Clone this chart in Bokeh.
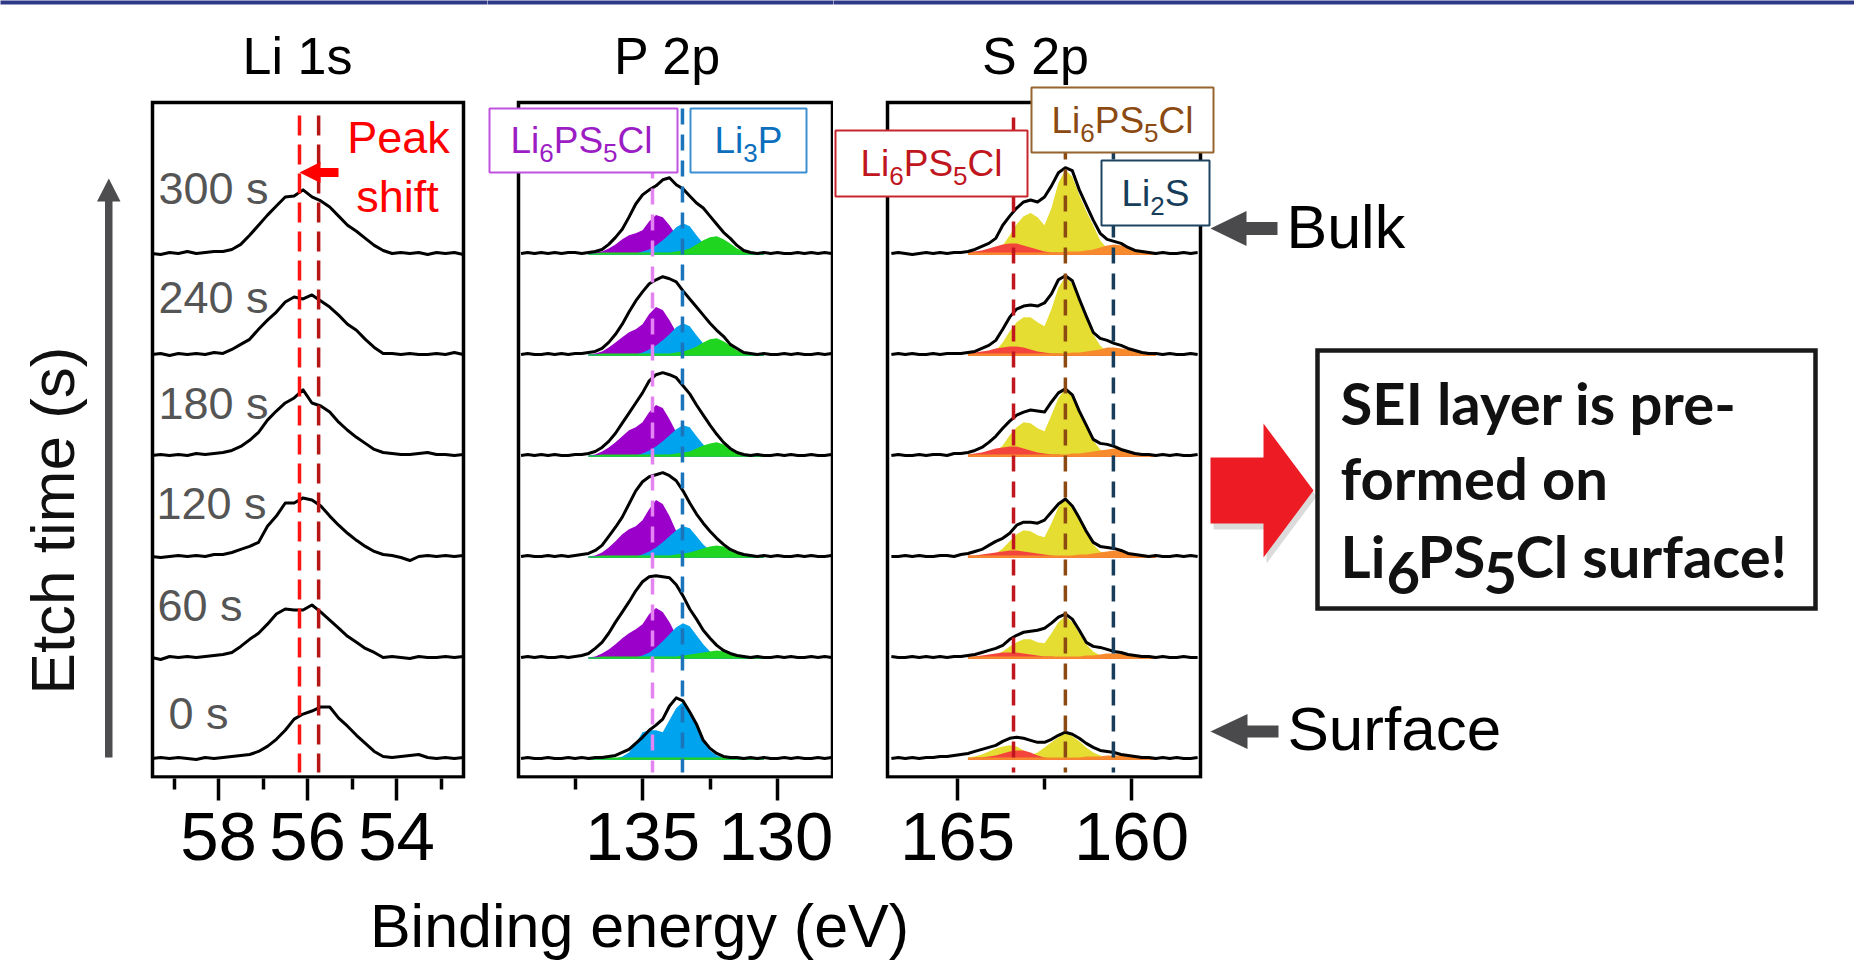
import numpy as np
from bokeh.plotting import figure
from bokeh.layouts import column, row
from bokeh.models import Range1d, FixedTicker
from bokeh.core.properties import value
from bokeh.embed import file_html
from bokeh.resources import INLINE

# ---------------- data ----------------
etch_times = ["0 s", "60 s", "120 s", "180 s", "240 s", "300 s"]
stack_offset = [0, 1, 2, 3, 4, 5]

# Li 1s
li_energy = [59.5, 59.3, 59.1, 58.9, 58.7, 58.5, 58.3, 58.1, 57.9, 57.7,
             57.5, 57.3, 57.1, 56.9, 56.7, 56.5, 56.3, 56.1, 55.9, 55.7,
             55.5, 55.3, 55.1, 54.9, 54.7, 54.5, 54.3, 54.1, 53.9, 53.7,
             53.5, 53.3, 53.1, 52.9, 52.7, 52.5]
li_0s = [0.00, 0.01, 0.00, 0.01, 0.00, -0.01, 0.01, 0.00, 0.01, 0.02,
         0.03, 0.04, 0.07, 0.12, 0.19, 0.28, 0.39, 0.44, 0.47, 0.51,
         0.51, 0.40, 0.32, 0.23, 0.15, 0.07, 0.02, 0.01, 0.02, 0.03,
         0.04, 0.01, 0.00, 0.01, 0.00, 0.01]
li_60s = [0.00, -0.02, 0.01, 0.00, 0.01, 0.00, 0.01, 0.02, 0.03, 0.05,
          0.11, 0.18, 0.24, 0.33, 0.43, 0.48, 0.47, 0.47, 0.52, 0.45,
          0.37, 0.29, 0.21, 0.15, 0.09, 0.05, 0.00, 0.01, 0.00, -0.01,
          0.01, 0.00, 0.00, 0.01, 0.00, 0.01]
li_120s = [0.00, -0.01, 0.00, 0.01, 0.00, 0.01, 0.00, 0.02, 0.02, 0.04,
           0.07, 0.10, 0.14, 0.30, 0.40, 0.53, 0.53, 0.58, 0.56, 0.50,
           0.40, 0.31, 0.23, 0.16, 0.10, 0.05, 0.02, 0.01, -0.01, -0.04,
           0.00, 0.01, 0.00, 0.01, 0.00, 0.01]
li_180s = [0.00, 0.01, 0.00, 0.01, 0.00, 0.02, 0.01, 0.02, 0.03, 0.05,
           0.09, 0.15, 0.23, 0.35, 0.44, 0.52, 0.57, 0.65, 0.52, 0.49,
           0.43, 0.33, 0.25, 0.18, 0.12, 0.06, 0.03, 0.02, 0.01, 0.01,
           0.02, 0.03, 0.01, 0.01, 0.00, 0.01]
li_240s = [0.00, 0.01, -0.01, 0.01, 0.00, 0.01, 0.00, 0.02, 0.01, 0.05,
           0.10, 0.15, 0.25, 0.34, 0.42, 0.52, 0.57, 0.55, 0.59, 0.53,
           0.47, 0.39, 0.30, 0.24, 0.15, 0.07, 0.01, 0.01, 0.00, 0.01,
           0.00, 0.00, 0.01, 0.00, 0.02, 0.00]
li_300s = [0.00, -0.01, 0.01, 0.00, 0.02, 0.00, 0.01, 0.02, 0.02, 0.04,
           0.09, 0.18, 0.28, 0.38, 0.47, 0.56, 0.57, 0.63, 0.56, 0.52,
           0.46, 0.37, 0.28, 0.22, 0.15, 0.08, 0.03, 0.00, 0.01, 0.00,
           0.01, -0.01, 0.01, 0.00, 0.01, -0.01]
li_spectra = [li_0s, li_60s, li_120s, li_180s, li_240s, li_300s]
li_peak_lines = [56.18, 55.75]

# P 2p
p_energy = [139.5, 139.25, 139.0, 138.75, 138.5, 138.25, 138.0, 137.75, 137.5, 137.25,
            137.0, 136.75, 136.5, 136.25, 136.0, 135.75, 135.5, 135.25, 135.0, 134.75,
            134.5, 134.25, 134.0, 133.75, 133.5, 133.25, 133.0, 132.75, 132.5, 132.25,
            132.0, 131.75, 131.5, 131.25, 131.0, 130.75, 130.5, 130.25, 130.0, 129.75,
            129.5, 129.25, 129.0, 128.75, 128.5, 128.25, 128.0]
p_0s = [0.00, 0.01, 0.00, 0.00, 0.01, 0.00, 0.00, 0.01, 0.00, 0.01,
        0.00, 0.01, 0.01, 0.02, 0.03, 0.06, 0.09, 0.15, 0.21, 0.28,
        0.33, 0.39, 0.52, 0.60, 0.57, 0.46, 0.34, 0.18, 0.10, 0.05,
        0.02, 0.01, 0.01, 0.00, 0.01, 0.00, 0.01, 0.00, 0.00, 0.01,
        0.00, 0.01, 0.00, 0.00, 0.01, 0.00, 0.01]
p_60s = [0.00, 0.01, 0.00, 0.01, 0.00, 0.00, 0.01, 0.00, 0.01, 0.02,
         0.04, 0.09, 0.15, 0.24, 0.35, 0.45, 0.55, 0.66, 0.75, 0.80,
         0.81, 0.80, 0.79, 0.72, 0.61, 0.48, 0.38, 0.27, 0.19, 0.12,
         0.07, 0.04, 0.02, 0.01, 0.00, 0.01, 0.00, 0.00, 0.01, 0.00,
         0.01, 0.00, 0.00, 0.01, 0.00, 0.01, 0.00]
p_120s = [0.00, 0.01, 0.00, 0.00, 0.01, 0.00, 0.01, 0.00, 0.01, 0.02,
          0.03, 0.06, 0.11, 0.20, 0.29, 0.39, 0.52, 0.65, 0.74, 0.79,
          0.81, 0.83, 0.80, 0.75, 0.65, 0.53, 0.42, 0.33, 0.25, 0.18,
          0.12, 0.07, 0.04, 0.02, 0.01, 0.00, 0.01, 0.00, 0.01, 0.00,
          0.00, 0.01, 0.00, 0.01, 0.00, 0.00, 0.01]
p_180s = [0.00, 0.01, 0.00, 0.01, 0.00, 0.01, 0.00, 0.00, 0.01, 0.01,
          0.02, 0.04, 0.08, 0.14, 0.22, 0.32, 0.42, 0.52, 0.62, 0.74,
          0.80, 0.82, 0.80, 0.77, 0.69, 0.61, 0.50, 0.40, 0.30, 0.21,
          0.13, 0.07, 0.03, 0.01, 0.00, 0.01, 0.00, 0.00, 0.01, 0.00,
          0.01, 0.00, 0.00, 0.01, 0.00, 0.00, 0.01]
p_240s = [0.00, 0.01, 0.00, 0.00, 0.01, 0.00, 0.01, 0.00, 0.01, 0.01,
          0.02, 0.03, 0.06, 0.12, 0.20, 0.30, 0.42, 0.53, 0.62, 0.70,
          0.74, 0.77, 0.75, 0.72, 0.63, 0.55, 0.47, 0.39, 0.31, 0.24,
          0.18, 0.10, 0.06, 0.02, 0.01, 0.00, 0.01, 0.00, 0.00, 0.01,
          0.00, 0.01, 0.00, 0.00, 0.01, 0.00, 0.01]
p_300s = [0.00, 0.01, 0.00, 0.01, 0.00, 0.01, 0.00, 0.01, 0.01, 0.00,
          0.01, 0.02, 0.04, 0.09, 0.16, 0.24, 0.36, 0.49, 0.58, 0.63,
          0.67, 0.73, 0.75, 0.68, 0.64, 0.57, 0.50, 0.45, 0.37, 0.29,
          0.21, 0.15, 0.08, 0.03, 0.01, 0.00, 0.01, 0.00, 0.01, 0.00,
          0.00, 0.01, 0.00, 0.01, 0.00, 0.01, 0.00]
p_spectra = [p_0s, p_60s, p_120s, p_180s, p_240s, p_300s]

p_comp_energy = [137.0, 136.75, 136.5, 136.25, 136.0, 135.75, 135.5, 135.25, 135.0, 134.75,
                 134.5, 134.25, 134.0, 133.75, 133.5, 133.25, 133.0, 132.75, 132.5, 132.25,
                 132.0, 131.75, 131.5, 131.25, 131.0, 130.75, 130.5]
p_li6ps5cl = [  # purple component
    [0] * 27,
    [0.00, 0.01, 0.04, 0.08, 0.13, 0.19, 0.24, 0.28, 0.33, 0.43, 0.49, 0.45, 0.35, 0.22, 0.11, 0.05, 0.02, 0.00, 0, 0, 0, 0, 0, 0, 0, 0, 0],
    [0.00, 0.01, 0.04, 0.09, 0.15, 0.22, 0.27, 0.30, 0.36, 0.47, 0.56, 0.52, 0.40, 0.25, 0.13, 0.06, 0.02, 0.00, 0, 0, 0, 0, 0, 0, 0, 0, 0],
    [0.00, 0.01, 0.04, 0.08, 0.13, 0.19, 0.25, 0.28, 0.33, 0.43, 0.50, 0.47, 0.36, 0.23, 0.12, 0.05, 0.02, 0.00, 0, 0, 0, 0, 0, 0, 0, 0, 0],
    [0.00, 0.01, 0.03, 0.07, 0.12, 0.17, 0.22, 0.25, 0.30, 0.40, 0.47, 0.44, 0.34, 0.22, 0.11, 0.05, 0.02, 0.00, 0, 0, 0, 0, 0, 0, 0, 0, 0],
    [0.00, 0.01, 0.02, 0.05, 0.09, 0.14, 0.18, 0.20, 0.23, 0.32, 0.38, 0.36, 0.28, 0.18, 0.09, 0.04, 0.01, 0.00, 0, 0, 0, 0, 0, 0, 0, 0, 0],
]
p_li3p = [  # blue component
    [0, 0, 0, 0, 0, 0.02, 0.06, 0.15, 0.26, 0.28, 0.28, 0.26, 0.38, 0.50, 0.56, 0.46, 0.32, 0.17, 0.08, 0.03, 0.01, 0, 0, 0, 0, 0, 0],
    [0, 0, 0, 0, 0, 0, 0, 0.00, 0.02, 0.05, 0.10, 0.16, 0.23, 0.30, 0.34, 0.31, 0.22, 0.13, 0.06, 0.02, 0.00, 0, 0, 0, 0, 0, 0],
    [0, 0, 0, 0, 0, 0, 0, 0.00, 0.02, 0.05, 0.09, 0.14, 0.20, 0.26, 0.30, 0.28, 0.20, 0.12, 0.06, 0.02, 0.00, 0, 0, 0, 0, 0, 0],
    [0, 0, 0, 0, 0, 0, 0, 0.00, 0.02, 0.05, 0.09, 0.14, 0.20, 0.26, 0.30, 0.28, 0.19, 0.11, 0.05, 0.02, 0.00, 0, 0, 0, 0, 0, 0],
    [0, 0, 0, 0, 0, 0, 0, 0.00, 0.02, 0.05, 0.09, 0.14, 0.20, 0.27, 0.31, 0.28, 0.19, 0.11, 0.05, 0.02, 0.00, 0, 0, 0, 0, 0, 0],
    [0, 0, 0, 0, 0, 0, 0, 0.00, 0.02, 0.04, 0.08, 0.13, 0.19, 0.26, 0.30, 0.27, 0.18, 0.10, 0.05, 0.02, 0.00, 0, 0, 0, 0, 0, 0],
]
p_third = [  # green component
    [0, 0.00, 0.01, 0.01, 0.01, 0.01, 0.01, 0.01, 0.01, 0.01, 0.01, 0.01, 0.01, 0.01, 0.01, 0.01, 0.01, 0.01, 0.01, 0.01, 0.01, 0.01, 0.01, 0.01, 0.01, 0.00, 0],
    [0, 0.00, 0.01, 0.01, 0.01, 0.01, 0.01, 0.01, 0.01, 0.01, 0.01, 0.01, 0.01, 0.01, 0.02, 0.03, 0.04, 0.05, 0.06, 0.07, 0.06, 0.04, 0.02, 0.01, 0.01, 0.00, 0],
    [0, 0.00, 0.01, 0.01, 0.01, 0.01, 0.01, 0.01, 0.01, 0.01, 0.01, 0.01, 0.01, 0.02, 0.03, 0.04, 0.06, 0.08, 0.10, 0.11, 0.10, 0.07, 0.03, 0.01, 0.01, 0.00, 0],
    [0, 0.00, 0.01, 0.01, 0.01, 0.01, 0.01, 0.01, 0.01, 0.01, 0.01, 0.01, 0.01, 0.02, 0.03, 0.04, 0.07, 0.10, 0.12, 0.13, 0.11, 0.07, 0.03, 0.01, 0.01, 0.00, 0],
    [0, 0.00, 0.01, 0.01, 0.01, 0.01, 0.01, 0.01, 0.01, 0.01, 0.01, 0.01, 0.01, 0.02, 0.03, 0.05, 0.08, 0.12, 0.15, 0.16, 0.13, 0.09, 0.04, 0.02, 0.01, 0.00, 0],
    [0, 0.00, 0.01, 0.01, 0.01, 0.01, 0.01, 0.01, 0.01, 0.01, 0.01, 0.01, 0.01, 0.02, 0.03, 0.05, 0.09, 0.13, 0.16, 0.17, 0.14, 0.10, 0.05, 0.02, 0.01, 0.00, 0],
]
p_ref_lines = [134.63, 133.52]

# S 2p
s_energy = [166.9, 166.7, 166.5, 166.3, 166.1, 165.9, 165.7, 165.5, 165.3, 165.1,
            164.9, 164.7, 164.5, 164.3, 164.1, 163.9, 163.7, 163.5, 163.3, 163.1,
            162.9, 162.7, 162.5, 162.3, 162.1, 161.9, 161.7, 161.5, 161.3, 161.1,
            160.9, 160.7, 160.5, 160.3, 160.1, 159.9, 159.7, 159.5, 159.3, 159.1,
            158.9, 158.7, 158.5, 158.3, 158.1]
s_0s = [0.00, 0.01, 0.00, 0.01, 0.00, 0.01, 0.01, 0.02, 0.02, 0.03,
        0.04, 0.05, 0.07, 0.09, 0.11, 0.13, 0.17, 0.20, 0.21, 0.20,
        0.18, 0.16, 0.16, 0.19, 0.23, 0.26, 0.24, 0.20, 0.15, 0.11,
        0.08, 0.07, 0.06, 0.04, 0.03, 0.02, 0.01, 0.01, 0.00, 0.01,
        0.00, 0.01, 0.00, 0.00, 0.01]
s_60s = [0.01, 0.00, 0.00, 0.01, 0.00, 0.01, 0.00, 0.01, 0.00, 0.01,
         0.01, 0.02, 0.03, 0.05, 0.07, 0.09, 0.12, 0.18, 0.22, 0.25,
         0.26, 0.27, 0.29, 0.34, 0.40, 0.43, 0.38, 0.27, 0.15, 0.11,
         0.10, 0.08, 0.06, 0.05, 0.03, 0.02, 0.01, 0.01, 0.00, 0.01,
         0.00, 0.00, 0.01, 0.00, 0.00]
s_120s = [0.00, 0.00, 0.01, 0.00, 0.01, 0.00, 0.00, 0.01, 0.01, 0.00,
          0.02, 0.03, 0.05, 0.07, 0.11, 0.15, 0.18, 0.23, 0.31, 0.34,
          0.34, 0.33, 0.36, 0.44, 0.52, 0.57, 0.50, 0.38, 0.25, 0.14,
          0.10, 0.09, 0.08, 0.06, 0.03, 0.02, 0.01, 0.00, 0.01, 0.00,
          0.00, 0.01, 0.00, 0.01, 0.00]
s_180s = [0.00, 0.01, 0.00, 0.00, 0.01, 0.00, 0.01, 0.01, 0.00, 0.02,
          0.02, 0.03, 0.05, 0.08, 0.13, 0.19, 0.27, 0.34, 0.40, 0.43,
          0.45, 0.44, 0.43, 0.53, 0.62, 0.66, 0.60, 0.44, 0.30, 0.16,
          0.12, 0.11, 0.09, 0.06, 0.04, 0.02, 0.01, 0.01, 0.00, 0.01,
          0.00, 0.01, 0.00, 0.00, 0.01]
s_240s = [0.00, 0.01, 0.00, 0.01, 0.00, 0.00, 0.01, 0.00, 0.01, 0.01,
          0.01, 0.02, 0.03, 0.06, 0.09, 0.14, 0.25, 0.37, 0.45, 0.48,
          0.49, 0.48, 0.51, 0.60, 0.74, 0.78, 0.73, 0.55, 0.38, 0.22,
          0.16, 0.14, 0.11, 0.09, 0.06, 0.04, 0.02, 0.01, 0.01, 0.00,
          0.01, 0.00, 0.00, 0.01, 0.00]
s_300s = [0.00, 0.01, 0.00, -0.01, 0.00, 0.01, 0.00, 0.01, 0.00, 0.01,
          0.01, 0.02, 0.04, 0.07, 0.10, 0.15, 0.28, 0.37, 0.45, 0.51,
          0.53, 0.51, 0.56, 0.67, 0.80, 0.85, 0.82, 0.63, 0.48, 0.33,
          0.20, 0.14, 0.12, 0.10, 0.06, 0.03, 0.02, 0.01, 0.00, 0.01,
          0.00, 0.00, 0.01, 0.00, 0.01]
s_spectra = [s_0s, s_60s, s_120s, s_180s, s_240s, s_300s]

s_comp_energy = [164.7, 164.5, 164.3, 164.1, 163.9, 163.7, 163.5, 163.3, 163.1, 162.9,
                 162.7, 162.5, 162.3, 162.1, 161.9, 161.7, 161.5, 161.3, 161.1, 160.9,
                 160.7, 160.5, 160.3, 160.1, 159.9, 159.7, 159.5, 159.3]
s_li6ps5cl_main = [  # yellow
    [0.01, 0.02, 0.04, 0.07, 0.10, 0.12, 0.13, 0.12, 0.08, 0.03, 0.06, 0.11, 0.16, 0.21, 0.25, 0.22, 0.17, 0.11, 0.06, 0.03, 0.01, 0.00, 0, 0, 0, 0, 0, 0],
    [0.00, 0.00, 0.00, 0.01, 0.03, 0.06, 0.11, 0.15, 0.18, 0.18, 0.15, 0.14, 0.24, 0.35, 0.41, 0.35, 0.24, 0.13, 0.06, 0.02, 0.00, 0, 0, 0, 0, 0, 0, 0],
    [0.00, 0.00, 0.00, 0.01, 0.03, 0.08, 0.15, 0.22, 0.26, 0.25, 0.21, 0.19, 0.33, 0.49, 0.57, 0.49, 0.36, 0.23, 0.12, 0.05, 0.02, 0.00, 0, 0, 0, 0, 0, 0],
    [0.00, 0.00, 0.00, 0.01, 0.04, 0.10, 0.20, 0.28, 0.33, 0.32, 0.27, 0.24, 0.40, 0.57, 0.66, 0.58, 0.42, 0.28, 0.15, 0.06, 0.02, 0.00, 0, 0, 0, 0, 0, 0],
    [0.00, 0.00, 0.00, 0.01, 0.04, 0.12, 0.23, 0.32, 0.37, 0.37, 0.32, 0.28, 0.45, 0.66, 0.77, 0.70, 0.52, 0.35, 0.20, 0.09, 0.03, 0.01, 0, 0, 0, 0, 0, 0],
    [0.00, 0.00, 0.00, 0.00, 0.02, 0.08, 0.18, 0.29, 0.37, 0.40, 0.36, 0.28, 0.45, 0.70, 0.83, 0.76, 0.58, 0.42, 0.28, 0.13, 0.05, 0.01, 0.00, 0, 0, 0, 0, 0],
]
s_li6ps5cl_red = [  # red
    [0.00, 0.01, 0.01, 0.02, 0.03, 0.05, 0.07, 0.08, 0.08, 0.06, 0.03, 0.01, 0.00, 0, 0, 0, 0, 0, 0, 0, 0, 0, 0, 0, 0, 0, 0, 0],
    [0.01, 0.01, 0.02, 0.03, 0.04, 0.05, 0.05, 0.05, 0.04, 0.03, 0.02, 0.01, 0.01, 0.00, 0, 0, 0, 0, 0, 0, 0, 0, 0, 0, 0, 0, 0, 0],
    [0.01, 0.01, 0.02, 0.03, 0.04, 0.05, 0.06, 0.06, 0.05, 0.04, 0.03, 0.02, 0.01, 0.00, 0, 0, 0, 0, 0, 0, 0, 0, 0, 0, 0, 0, 0, 0],
    [0.01, 0.02, 0.03, 0.05, 0.07, 0.08, 0.09, 0.09, 0.07, 0.05, 0.03, 0.02, 0.01, 0.01, 0.00, 0, 0, 0, 0, 0, 0, 0, 0, 0, 0, 0, 0, 0],
    [0.01, 0.02, 0.03, 0.04, 0.06, 0.07, 0.08, 0.08, 0.07, 0.05, 0.03, 0.02, 0.01, 0.01, 0.00, 0, 0, 0, 0, 0, 0, 0, 0, 0, 0, 0, 0, 0],
    [0.01, 0.02, 0.03, 0.05, 0.07, 0.09, 0.10, 0.10, 0.08, 0.06, 0.04, 0.02, 0.01, 0.01, 0.00, 0, 0, 0, 0, 0, 0, 0, 0, 0, 0, 0, 0, 0],
]
s_li2s = [  # orange
    [0.01, 0.01, 0.01, 0.01, 0.01, 0.01, 0.01, 0.01, 0.01, 0.01, 0.01, 0.01, 0.01, 0.01, 0.01, 0.01, 0.01, 0.02, 0.02, 0.02, 0.03, 0.03, 0.03, 0.02, 0.02, 0.01, 0.01, 0.00],
    [0.01, 0.01, 0.01, 0.01, 0.01, 0.01, 0.01, 0.01, 0.01, 0.01, 0.01, 0.01, 0.01, 0.01, 0.01, 0.01, 0.01, 0.02, 0.02, 0.03, 0.04, 0.04, 0.04, 0.03, 0.02, 0.01, 0.01, 0.00],
    [0.01, 0.01, 0.01, 0.01, 0.01, 0.01, 0.01, 0.01, 0.01, 0.01, 0.01, 0.01, 0.01, 0.01, 0.01, 0.01, 0.02, 0.02, 0.03, 0.04, 0.05, 0.06, 0.05, 0.04, 0.02, 0.01, 0.01, 0.00],
    [0.01, 0.01, 0.01, 0.01, 0.01, 0.01, 0.01, 0.01, 0.01, 0.01, 0.01, 0.01, 0.01, 0.01, 0.01, 0.02, 0.02, 0.03, 0.04, 0.05, 0.06, 0.07, 0.06, 0.04, 0.03, 0.02, 0.01, 0.00],
    [0.01, 0.01, 0.01, 0.01, 0.01, 0.01, 0.01, 0.01, 0.01, 0.01, 0.01, 0.01, 0.01, 0.01, 0.01, 0.02, 0.02, 0.03, 0.04, 0.05, 0.07, 0.07, 0.06, 0.05, 0.03, 0.02, 0.01, 0.00],
    [0.01, 0.01, 0.01, 0.01, 0.01, 0.01, 0.01, 0.01, 0.01, 0.01, 0.01, 0.01, 0.01, 0.01, 0.02, 0.02, 0.02, 0.03, 0.04, 0.06, 0.08, 0.09, 0.08, 0.06, 0.04, 0.02, 0.01, 0.00],
]
s_ref_lines = [163.39, 161.90, 160.52]

for grp, grid in [(li_spectra, li_energy), (p_spectra, p_energy), (s_spectra, s_energy),
                  (p_li6ps5cl, p_comp_energy), (p_li3p, p_comp_energy), (p_third, p_comp_energy),
                  (s_li6ps5cl_main, s_comp_energy), (s_li6ps5cl_red, s_comp_energy), (s_li2s, s_comp_energy)]:
    for arr in grp:
        assert len(arr) == len(grid), (len(arr), len(grid))

# ---------------- styling / geometry ----------------
FONT = "Liberation Sans"
NAVY = "#2E3A87"
SP = 101.0      # px per intensity unit
Y0 = 758.0      # px of 0 s baseline (page coords)
ROW_H = 892
AX_B = ROW_H - 778
MID = 0.35      # baseline -> vertical middle, in em


def yd(Y):
    return (Y0 - Y) / SP


def make_conv(val, px, ppe):
    return lambda X: val - (X - px) / ppe


xl = make_conv(56.0, 307.0, 44.5)
xp = make_conv(135.0, 642.0, 27.0)
xs = make_conv(165.0, 957.0, 34.8)

AW = {'L': 0.556, 'i': 0.222, 'P': 0.667, 'S': 0.667, 'C': 0.722, 'l': 0.222,
      '2': 0.556, '3': 0.556, '5': 0.556, '6': 0.556}


def txt_mid(p, x, y, s, size, color="black", align="left", font=FONT, bold=False, angle=0.0):
    p.text(x=[x], y=[y], text=[s], text_font=value(font), text_font_size=value(f"{size}px"),
           text_color=color, text_align=align, text_baseline="middle",
           text_font_style=value("bold" if bold else "normal"), angle=angle)


def txt(p, conv, X, Ybase, s, size, color="black", align="left", font=FONT, bold=False):
    """place text so that its baseline sits at page pixel Ybase"""
    txt_mid(p, conv(X), yd(Ybase - MID * size), s, size, color, align, font, bold)


def formula(p, conv, parts, cx, base, color, size=37, sub=26, drop=9):
    widths = [sum(AW[c] for c in t) * (sub if s else size) for t, s in parts]
    x = cx - sum(widths) / 2.0
    for (t, s), w in zip(parts, widths):
        txt(p, conv, x, base + (drop if s else 0), t, sub if s else size, color)
        x += w


def label_box(p, conv, X0, X1, Y0_, Y1_, color):
    p.quad(left=[conv(X0)], right=[conv(X1)], top=[yd(Y0_)], bottom=[yd(Y1_)],
           fill_color="white", line_color=color, line_width=2)


def panel(width, conv, x0, x1, ticks, minor):
    p = figure(width=width, height=ROW_H, x_range=Range1d(conv(x0), conv(x1)),
               y_range=Range1d(yd(778), yd(0)), output_backend="svg", toolbar_location=None,
               y_axis_location=None, min_border_left=0, min_border_right=0, min_border_top=0,
               min_border_bottom=AX_B, outline_line_color=None,
               background_fill_color="white", border_fill_color="white")
    p.xgrid.visible = False
    p.ygrid.visible = False
    ax = p.xaxis[0]
    ax.ticker = FixedTicker(ticks=ticks, minor_ticks=minor)
    ax.axis_line_color = None
    ax.major_tick_in = 0
    ax.major_tick_out = 22
    ax.minor_tick_in = 0
    ax.minor_tick_out = 11
    ax.major_tick_line_width = 3.5
    ax.minor_tick_line_width = 3.5
    ax.major_tick_line_color = "black"
    ax.minor_tick_line_color = "black"
    ax.major_label_text_font = FONT
    ax.major_label_text_font_size = "69px"
    ax.major_label_text_color = "black"
    ax.major_label_standoff = 12
    p.quad(left=[conv(x0 - 4)], right=[conv(x1 + 4)], top=[yd(-2)], bottom=[yd(4)],
           fill_color=NAVY, line_color=None)
    return p


def frame_box(p, conv, X0, X1):
    p.quad(left=[conv(X0)], right=[conv(X1)], top=[yd(102)], bottom=[yd(776.5)],
           fill_alpha=0, line_color="black", line_width=3.5, line_join="miter")


def block_arrow_left(p, conv, tip, head_base, tail, yc, head_half, shaft_half, color):
    p.quad(left=[conv(head_base - 1)], right=[conv(tail)], top=[yd(yc - shaft_half)],
           bottom=[yd(yc + shaft_half)], fill_color=color, line_color=None)
    p.patch([conv(tip), conv(head_base), conv(head_base)],
            [yd(yc), yd(yc - head_half), yd(yc + head_half)], fill_color=color, line_color=None)


# ---------------- Li 1s ----------------
li = panel(487, xl, 0, 487, [58, 56, 54], [59, 57, 55, 53])
li.quad(left=[xl(104.5)], right=[xl(112)], top=[yd(199)], bottom=[yd(757)],
        fill_color="#4D4D50", line_color=None)
li.patch([xl(96.5), xl(108.3), xl(120)], [yd(201), yd(178), yd(201)],
         fill_color="#4D4D50", line_color=None)
txt_mid(li, xl(52), yd(520), "Etch time (s)", 62, "#111111", align="center", angle=np.pi / 2)
frame_box(li, xl, 152, 463)
for off, spec in zip(stack_offset, li_spectra):
    li.line(li_energy, [v + off for v in spec], line_color="black", line_width=3, line_join="round")
li.segment(x0=[li_peak_lines[0]], y0=[yd(115)], x1=[li_peak_lines[0]], y1=[yd(772)],
           line_color="#FF1414", line_width=3.5, line_dash="20 9")
li.segment(x0=[li_peak_lines[1]], y0=[yd(115)], x1=[li_peak_lines[1]], y1=[yd(772)],
           line_color="#B51515", line_width=3.5, line_dash="20 9")
label_left_px = [168, 157, 156, 158, 158, 158]
label_mid_px = [713, 605, 503, 403, 297, 188]
for lab, lx, ly in zip(etch_times, label_left_px, label_mid_px):
    txt_mid(li, xl(lx), yd(ly), lab, 45, "#555555")
txt(li, xl, 398, 153, "Peak", 45, "#FF0000", align="center")
txt(li, xl, 397, 212, "shift", 45, "#FF0000", align="center")
block_arrow_left(li, xl, 299, 320, 338, 172, 10.5, 4.5, "#FF0000")
txt(li, xl, 297, 74, "Li 1s", 52, "black", align="center")

# ---------------- P 2p ----------------
pp = panel(346, xp, 487, 833, [135, 130], [137.5, 132.5])
frame_box(pp, xp, 518, 832)
for i, off in enumerate(stack_offset):
    base = [off - 0.012] * len(p_comp_energy)
    for comp, col in [(p_li6ps5cl, "#9A00C9"), (p_li3p, "#00A3EE"), (p_third, "#1FD51F")]:
        pp.varea(x=p_comp_energy, y1=base, y2=[v + off for v in comp[i]], fill_color=col)
    pp.line(p_energy, [v + off for v in p_spectra[i]], line_color="black", line_width=3, line_join="round")
pp.segment(x0=[p_ref_lines[0]], y0=[yd(110)], x1=[p_ref_lines[0]], y1=[yd(772)],
           line_color="#E484F2", line_width=3.5, line_dash="16 10")
pp.segment(x0=[p_ref_lines[1]], y0=[yd(108)], x1=[p_ref_lines[1]], y1=[yd(772)],
           line_color="#1C74BA", line_width=3.5, line_dash="16 10")
label_box(pp, xp, 489, 677, 108, 172, "#C052E0")
formula(pp, xp, [("Li", 0), ("6", 1), ("PS", 0), ("5", 1), ("Cl", 0)], 581, 153, "#9B1DC3")
label_box(pp, xp, 690, 806, 108, 172, "#3D8FD1")
formula(pp, xp, [("Li", 0), ("3", 1), ("P", 0)], 748, 153, "#0B6FBE")
txt(pp, xp, 667, 74, "P 2p", 52, "black", align="center")

# ---------------- S 2p + annotations ----------------
ss = panel(1021, xs, 833, 1854, [165, 160], [162.5])
frame_box(ss, xs, 887, 1200)
for i, off in enumerate(stack_offset):
    base = [off - 0.012] * len(s_comp_energy)
    for comp, col in [(s_li6ps5cl_main, "#E6DD33"), (s_li6ps5cl_red, "#F4453C"), (s_li2s, "#F68A2C")]:
        ss.varea(x=s_comp_energy, y1=base, y2=[v + off for v in comp[i]], fill_color=col)
    ss.line(s_energy, [v + off for v in s_spectra[i]], line_color="black", line_width=3, line_join="round")
for xv, col in zip(s_ref_lines, ["#C0161E", "#8B4A12", "#173D5A"]):
    ss.segment(x0=[xv], y0=[yd(117)], x1=[xv], y1=[yd(772)], line_color=col,
               line_width=3.5, line_dash="16 10")
label_box(ss, xs, 835, 1027, 130, 196, "#C8262C")
formula(ss, xs, [("Li", 0), ("6", 1), ("PS", 0), ("5", 1), ("Cl", 0)], 931, 176, "#C0161E")
label_box(ss, xs, 1031, 1213, 87, 152, "#96642E")
formula(ss, xs, [("Li", 0), ("6", 1), ("PS", 0), ("5", 1), ("Cl", 0)], 1122, 133, "#8B4A12")
txt(ss, xs, 1035, 74, "S 2p", 52, "black", align="center")
label_box(ss, xs, 1101, 1209, 160, 225, "#1E4461")
formula(ss, xs, [("Li", 0), ("2", 1), ("S", 0)], 1155, 206, "#173D5A")

# Bulk / Surface
block_arrow_left(ss, xs, 1210, 1246, 1277, 228, 17.5, 6.5, "#4A4A4D")
txt(ss, xs, 1286, 248, "Bulk", 61, "black")
block_arrow_left(ss, xs, 1210, 1247, 1278, 731, 17.5, 6, "#4A4A4D")
txt(ss, xs, 1287, 750, "Surface", 62, "black")

# red block arrow (with soft shadow)
arrow_px = [(1210, 457), (1263, 457), (1263, 423), (1313, 490), (1263, 557), (1263, 523), (1210, 523)]
ss.patch([xs(a + 3) for a, b in arrow_px], [yd(b + 6) for a, b in arrow_px],
         fill_color="#888888", fill_alpha=0.3, line_color=None)
ss.patch([xs(a) for a, b in arrow_px], [yd(b) for a, b in arrow_px],
         fill_color="#ED1C24", line_color=None)

# SEI message box
ss.quad(left=[xs(1317)], right=[xs(1815)], top=[yd(350)], bottom=[yd(608)],
        fill_color="white", line_color="#1A1A1A", line_width=4.5, line_join="miter")
SEI_FONT = "Lato"
txt(ss, xs, 1340, 422, "SEI layer is pre-", 58, "#111111", font=SEI_FONT, bold=True)
txt(ss, xs, 1340, 497, "formed on", 58, "#111111", font=SEI_FONT, bold=True)
for piece, left_px, drop in [("Li", 1340, 0), ("6", 1386, 18), ("PS", 1417, 0),
                             ("5", 1483, 18), ("Cl surface!", 1515, 0)]:
    txt(ss, xs, left_px, 575 + drop, piece, 58, "#111111", font=SEI_FONT, bold=True)

# ---------------- bottom axis title ----------------
BOT_H = 963 - ROW_H
bot = figure(width=1854, height=BOT_H, x_range=Range1d(0, 1854), y_range=Range1d(963, ROW_H),
             output_backend="svg", toolbar_location=None, x_axis_location=None,
             y_axis_location=None, min_border=0, outline_line_color=None)
bot.xgrid.visible = False
bot.ygrid.visible = False
bot.text(x=[639], y=[947 - MID * 61], text=["Binding energy (eV)"], text_font=value(FONT),
         text_font_size=value("61px"), text_color="black", text_align="center",
         text_baseline="middle")

layout = column(row(li, pp, ss, spacing=0), bot, spacing=0)
open("out.html", "w").write(file_html(layout, INLINE))
